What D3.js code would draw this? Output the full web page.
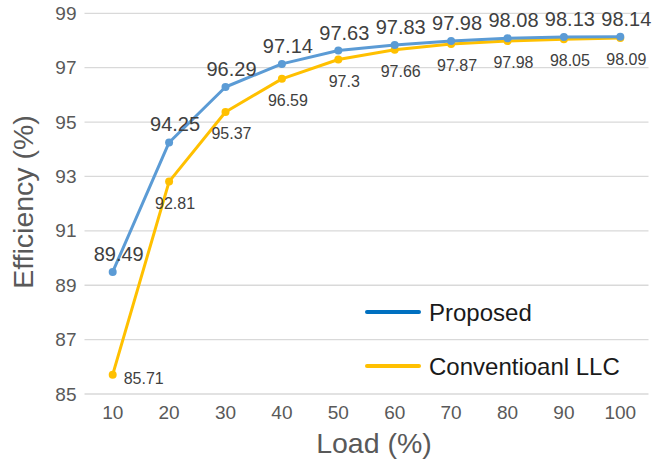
<!DOCTYPE html>
<html><head><meta charset="utf-8">
<script src="https://cdn.jsdelivr.net/npm/d3@7"></script>
<style>body{margin:0;background:#fff}svg{display:block;font-family:"Liberation Sans",Arial,sans-serif}</style>
</head><body><svg id="c" width="653" height="462"></svg>
<script>
const loads = [10,20,30,40,50,60,70,80,90,100];
const proposed = [89.49,94.25,96.29,97.14,97.63,97.83,97.98,98.08,98.13,98.14];
const conventional = [85.71,92.81,95.37,96.59,97.3,97.66,97.87,97.98,98.05,98.09];
const yTicks = [85,87,89,91,93,95,97,99];
const seriesNames = ["Proposed","Conventioanl LLC"];

const svg = d3.select("#c");
const L = 84.5, R = 648.5, T = 13.3, B = 394;
const x = d3.scaleBand().domain(loads).range([L,R]);
const y = d3.scaleLinear().domain([85,99]).range([B,T]);
const cx = d => x(d) + x.bandwidth()/2;

// grid
svg.append("g").selectAll("line").data(yTicks).join("line")
  .attr("x1",L).attr("x2",R).attr("y1",d=>y(d)).attr("y2",d=>y(d))
  .attr("stroke","#d9d9d9").attr("stroke-width",1.3);

// y tick labels
const yAxis = svg.append("g").attr("transform",`translate(${L},0)`)
  .call(d3.axisLeft(y).tickValues(yTicks).tickSize(0).tickPadding(8));
yAxis.select(".domain").remove();
yAxis.selectAll("text").attr("font-size",19).attr("fill","#595959").attr("font-family","Liberation Sans, Arial, sans-serif");

// x tick labels
const xAxis = svg.append("g").attr("transform",`translate(0,${B})`)
  .call(d3.axisBottom(x).tickSize(0).tickPadding(12));
xAxis.select(".domain").remove();
xAxis.selectAll("text").attr("font-size",19).attr("fill","#595959").attr("font-family","Liberation Sans, Arial, sans-serif");

// titles
svg.append("text").attr("x",374).attr("y",453).attr("text-anchor","middle")
  .attr("font-size",28.5).attr("fill","#595959").text("Load (%)");
svg.append("text").attr("transform","translate(33,202) rotate(-90)").attr("text-anchor","middle")
  .attr("font-size",28.5).attr("fill","#595959").text("Efficiency (%)");

const line = d3.line().x((d,i)=>cx(loads[i])).y(d=>y(d));

function drawSeries(vals,color){
  svg.append("path").datum(vals).attr("d",line).attr("fill","none")
    .attr("stroke",color).attr("stroke-width",3).attr("stroke-linejoin","round");
  svg.append("g").selectAll("circle").data(vals).join("circle")
    .attr("cx",(d,i)=>cx(loads[i])).attr("cy",d=>y(d)).attr("r",4).attr("fill",color);
}
drawSeries(conventional,"#FFC000");
drawSeries(proposed,"#5B9BD5");

// labels
svg.append("g").selectAll("text").data(proposed).join("text")
  .attr("x",(d,i)=>cx(loads[i])+6).attr("y",d=>y(d)-11).attr("text-anchor","middle")
  .attr("font-size",20).attr("fill","#404040").text(d=>d);
svg.append("g").selectAll("text").data(conventional).join("text")
  .attr("x",(d,i)=> i===0 ? cx(loads[i])+11 : cx(loads[i])+6)
  .attr("y",(d,i)=> i===0 ? y(d)+9 : y(d)+27)
  .attr("text-anchor",(d,i)=> i===0 ? "start" : "middle")
  .attr("font-size",16).attr("fill","#404040").text(d=>d);

// legend
const legColors = ["#0070C0","#FFC000"];
const lg = svg.append("g").selectAll("g").data(seriesNames).join("g")
  .attr("transform",(d,i)=>`translate(367,${312 + i*54})`);
lg.append("line").attr("x1",0).attr("x2",52).attr("y1",0).attr("y2",0)
  .attr("stroke",(d,i)=>legColors[i]).attr("stroke-width",4).attr("stroke-linecap","round");
lg.append("text").attr("x",62).attr("y",8.5).attr("font-size",24).attr("fill","#1a1a1a").text(d=>d);
</script></body></html>
